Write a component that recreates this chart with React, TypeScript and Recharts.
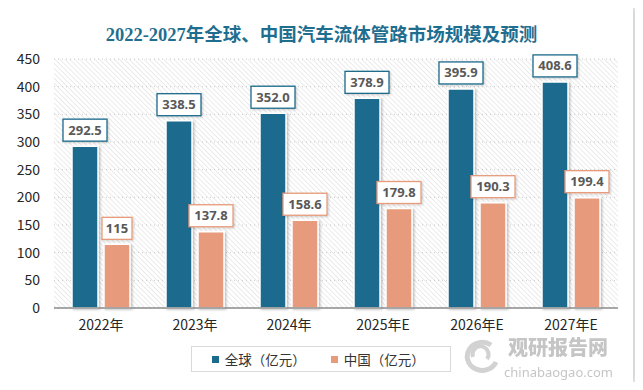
import React from "react";
import { BarChart, Bar, XAxis, YAxis, CartesianGrid, LabelList } from "recharts";

const years = ["2022年", "2023年", "2024年", "2025年E", "2026年E", "2027年E"];
const globalValues = [292.5, 338.5, 352.0, 378.9, 395.9, 408.6];
const chinaValues = [115, 137.8, 158.6, 179.8, 190.3, 199.4];
const yTicks = [0, 50, 100, 150, 200, 250, 300, 350, 400, 450];

const BLUE = "#1b6b8d";
const SALMON = "#e79b7b";
const FONT = '"Noto Sans", "Noto Sans CJK SC", sans-serif';

const data = years.map((year, i) => ({
  year,
  global: globalValues[i],
  china: chinaValues[i],
}));

const makeLabel = (color: string, fmt: (v: number) => string) => (props: any) => {
  const { x, y, width, value } = props;
  const text = fmt(Number(value));
  const w = text.length * 7 + 9;
  const h = 22;
  const cx = Number(x) + Number(width) / 2;
  const top = Number(y) - 5 - h;
  return (
    <g>
      <rect x={cx - w / 2} y={top} width={w} height={h} fill="#fff" stroke={color} strokeWidth={1.3} filter="url(#boxShadow)" />
      <text x={cx} y={top + h / 2 + 4.5} textAnchor="middle" fontSize={13} fontWeight="bold" fill="#595959" fontFamily={FONT}>
        {text}
      </text>
    </g>
  );
};

function LegendBox() {
  const item = (color: string, label: string) => (
    <div style={{ display: "flex", alignItems: "center", marginRight: 28 }}>
      <span style={{ width: 7, height: 7, background: color, display: "inline-block", marginRight: 6 }} />
      <span>{label}</span>
    </div>
  );
  return (
    <div
      style={{
        position: "absolute",
        left: 191,
        top: 346,
        width: 260,
        height: 26,
        boxSizing: "border-box",
        border: "1px solid #d9d9d9",
        display: "flex",
        alignItems: "center",
        paddingLeft: 20,
        fontFamily: '"Noto Sans CJK SC", sans-serif',
        fontSize: 13.5,
        color: "#333",
      }}
    >
      {item(BLUE, "全球（亿元）")}
      {item(SALMON, "中国（亿元）")}
    </div>
  );
}

function Watermark() {
  return (
    <div style={{ position: "absolute", left: 460, top: 338, width: 160, height: 42, opacity: 0.5, pointerEvents: "none" }}>
      <svg width={44} height={36} style={{ position: "absolute", left: 0, top: 0 }}>
        <path d="M31,7 A15,14 0 1,0 36,24" fill="none" stroke="#a6a6a6" strokeWidth={5} />
        <path d="M13,19 A8,8 0 1,1 27,21" fill="none" stroke="#a6a6a6" strokeWidth={4} />
      </svg>
      <div style={{ position: "absolute", left: 48, top: -1, fontFamily: '"Noto Sans CJK SC", sans-serif', fontWeight: 900, fontSize: 20, lineHeight: "20px", color: "#8c8c8c" }}>
        观研报告网
      </div>
      <div style={{ position: "absolute", left: 44, top: 28, fontFamily: FONT, fontSize: 13, lineHeight: "13px", color: "#8c8c8c" }}>
        chinabaogao.com
      </div>
    </div>
  );
}

export default function App() {
  return (
    <div style={{ position: "relative", width: 643, height: 390, margin: -8, background: "#fff", overflow: "hidden" }}>
      <div
        style={{
          position: "absolute",
          left: 8,
          top: 6,
          width: 625,
          height: 376,
          background: "#fff",
          boxShadow: "1px 1px 8px 2px rgba(0,0,0,0.22)",
        }}
      />
      <div
        style={{
          position: "absolute",
          left: 0,
          top: 24,
          width: 643,
          textAlign: "center",
          fontFamily: '"Liberation Serif", "Noto Sans CJK SC", serif',
          fontWeight: "bold",
          fontSize: 18.5,
          lineHeight: "22px",
          color: "#1f6e90",
        }}
      >
        2022-2027年全球、中国汽车流体管路市场规模及预测
      </div>
      <div style={{ position: "absolute", left: 0, top: 0 }}>
        <BarChart
          width={643}
          height={390}
          data={data}
          margin={{ top: 59, right: 25, bottom: 52, left: 14 }}
          barSize={26}
          barGap={6}
        >
          <defs>
            <pattern id="hatch" width={3.5} height={3.5} patternUnits="userSpaceOnUse" patternTransform="rotate(-45)">
              <line x1={0} y1={0} x2={0} y2={3.5} stroke="#d6d6d6" strokeWidth={1} />
            </pattern>
            <filter id="barShadow" x="-20%" y="-5%" width="150%" height="115%">
              <feDropShadow dx={1.5} dy={1} stdDeviation={1.2} floodColor="#000" floodOpacity={0.25} />
            </filter>
            <filter id="boxShadow" x="-20%" y="-20%" width="150%" height="160%">
              <feDropShadow dx={1} dy={1} stdDeviation={1} floodColor="#000" floodOpacity={0.2} />
            </filter>
          </defs>
          <CartesianGrid vertical={false} fill="url(#hatch)" stroke="#c8c8c8" strokeDasharray="1 3" />
          <XAxis
            dataKey="year"
            height={30}
            tickLine={false}
            tickSize={0}
            tickMargin={12}
            axisLine={{ stroke: "#8c8c8c", strokeWidth: 1.3 }}
            tick={{ fontSize: 14, fill: "#262626", fontFamily: '"Noto Sans CJK SC", sans-serif' }}
          />
          <YAxis
            width={40}
            domain={[0, 450]}
            ticks={yTicks}
            axisLine={false}
            tickLine={false}
            tickSize={0}
            tickMargin={14}
            tick={{ fontSize: 14, fill: "#262626", fontFamily: '"Noto Sans CJK SC", sans-serif' }}
          />
          <Bar dataKey="global" fill={BLUE} stroke="#fff" strokeWidth={1.5} filter="url(#barShadow)" isAnimationActive={false}>
            <LabelList dataKey="global" content={makeLabel(BLUE, (v) => v.toFixed(1))} />
          </Bar>
          <Bar dataKey="china" fill={SALMON} stroke="#fff" strokeWidth={1.5} filter="url(#barShadow)" isAnimationActive={false}>
            <LabelList dataKey="china" content={makeLabel(SALMON, (v) => String(v))} />
          </Bar>
        </BarChart>
      </div>
      <LegendBox />
      <Watermark />
    </div>
  );
}
